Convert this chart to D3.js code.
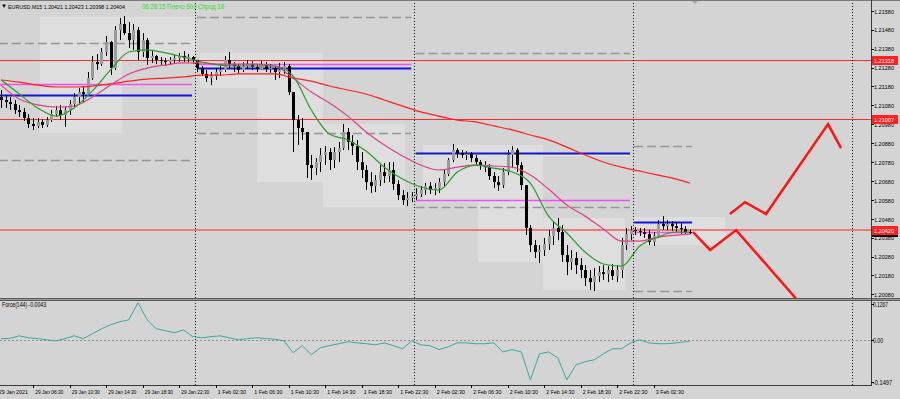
<!DOCTYPE html>
<html>
<head>
<meta charset="utf-8">
<script src="https://cdn.jsdelivr.net/npm/d3@7"></script>
<style>
  body { margin: 0; background: #d4d4d4; }
  svg { display: block; font-family: "Liberation Sans", Arial, sans-serif; }
</style>
</head>
<body>
<script>
// EURUSD M15, one candle per two M15 bars. candle k sits at bar -85 + 2k
// (bar 0 = 1 Feb 00:00), so k = 0 is 29 Jan 02:45 and k = 151 is 3 Feb 06:15
const firstOpen = 1.21124;
const closes = [
  1.21108,1.21097,1.21087,1.21055,1.21045,1.21013,1.20981,1.20971,1.20992,1.20976,
  1.21002,1.21034,1.21055,1.21029,1.21055,1.21087,1.21124,1.21150,1.21140,1.21224,
  1.21309,1.21298,1.21362,1.21415,1.21277,1.21478,1.21510,1.21462,1.21425,1.21478,
  1.21362,1.21425,1.21330,1.21341,1.21320,1.21314,1.21309,1.21320,1.21330,1.21341,
  1.21330,1.21335,1.21320,1.21277,1.21246,1.21224,1.21235,1.21256,1.21267,1.21320,
  1.21298,1.21288,1.21267,1.21288,1.21298,1.21283,1.21272,1.21293,1.21272,1.21277,
  1.21256,1.21267,1.21288,1.21150,1.21002,1.20960,1.20939,1.20764,1.20748,1.20780,
  1.20817,1.20833,1.20791,1.20833,1.20854,1.20939,1.20886,1.20865,1.20780,1.20738,
  1.20674,1.20653,1.20685,1.20727,1.20706,1.20738,1.20664,1.20605,1.20579,1.20590,
  1.20600,1.20611,1.20632,1.20653,1.20632,1.20642,1.20674,1.20717,1.20791,1.20844,
  1.20828,1.20817,1.20822,1.20801,1.20780,1.20764,1.20753,1.20706,1.20674,1.20658,
  1.20727,1.20817,1.20844,1.20764,1.20658,1.20431,1.20341,1.20304,1.20315,1.20346,
  1.20389,1.20431,1.20410,1.20288,1.20251,1.20272,1.20235,1.20209,1.20166,1.20145,
  1.20177,1.20198,1.20188,1.20209,1.20177,1.20209,1.20341,1.20399,1.20420,1.20415,
  1.20410,1.20399,1.20357,1.20389,1.20452,1.20441,1.20452,1.20441,1.20431,1.20426,
  1.20410,1.20404
];
const highs = [
  1.21161,1.21134,1.21124,1.21108,1.21082,1.21066,1.21034,1.21013,1.21013,1.21008,
  1.21018,1.21055,1.21076,1.21082,1.21071,1.21108,1.21145,1.21171,1.21182,1.21256,
  1.21341,1.21351,1.21383,1.21447,1.21420,1.21499,1.21542,1.21552,1.21521,1.21510,
  1.21494,1.21462,1.21436,1.21373,1.21346,1.21335,1.21330,1.21335,1.21346,1.21357,
  1.21367,1.21351,1.21341,1.21309,1.21288,1.21267,1.21256,1.21277,1.21293,1.21341,
  1.21362,1.21309,1.21298,1.21309,1.21320,1.21314,1.21298,1.21314,1.21309,1.21298,
  1.21288,1.21304,1.21309,1.21298,1.21150,1.21029,1.21013,1.20897,1.20817,1.20801,
  1.20854,1.20865,1.20854,1.20859,1.20886,1.20981,1.20960,1.20923,1.20897,1.20833,
  1.20764,1.20727,1.20711,1.20764,1.20775,1.20780,1.20780,1.20685,1.20632,1.20621,
  1.20621,1.20642,1.20653,1.20669,1.20674,1.20669,1.20695,1.20738,1.20801,1.20875,
  1.20854,1.20844,1.20838,1.20833,1.20817,1.20791,1.20785,1.20769,1.20727,1.20706,
  1.20748,1.20844,1.20865,1.20854,1.20780,1.20658,1.20447,1.20367,1.20341,1.20379,
  1.20420,1.20463,1.20484,1.20447,1.20341,1.20315,1.20304,1.20272,1.20235,1.20209,
  1.20220,1.20230,1.20235,1.20230,1.20241,1.20235,1.20379,1.20431,1.20441,1.20436,
  1.20431,1.20431,1.20420,1.20410,1.20473,1.20494,1.20473,1.20468,1.20463,1.20463,
  1.20441,1.20423
];
const lows = [
  1.21066,1.21066,1.21055,1.21034,1.21018,1.20997,1.20960,1.20950,1.20960,1.20960,
  1.20965,1.20992,1.21018,1.21002,1.20965,1.21029,1.21071,1.21092,1.21097,1.21140,
  1.21214,1.21267,1.21288,1.21341,1.21240,1.21267,1.21425,1.21452,1.21383,1.21373,
  1.21320,1.21335,1.21293,1.21304,1.21298,1.21293,1.21288,1.21293,1.21304,1.21309,
  1.21309,1.21309,1.21298,1.21256,1.21235,1.21203,1.21187,1.21214,1.21235,1.21256,
  1.21277,1.21256,1.21246,1.21256,1.21272,1.21267,1.21256,1.21272,1.21256,1.21251,
  1.21214,1.21224,1.21246,1.21134,1.20833,1.20870,1.20897,1.20695,1.20685,1.20711,
  1.20727,1.20764,1.20738,1.20748,1.20780,1.20844,1.20844,1.20817,1.20738,1.20695,
  1.20632,1.20616,1.20621,1.20653,1.20669,1.20674,1.20632,1.20579,1.20553,1.20547,
  1.20568,1.20579,1.20595,1.20605,1.20611,1.20605,1.20616,1.20653,1.20706,1.20780,
  1.20801,1.20801,1.20791,1.20780,1.20759,1.20738,1.20727,1.20685,1.20642,1.20627,
  1.20642,1.20711,1.20748,1.20727,1.20632,1.20394,1.20304,1.20272,1.20246,1.20283,
  1.20315,1.20341,1.20367,1.20251,1.20182,1.20209,1.20188,1.20166,1.20124,1.20103,
  1.20098,1.20145,1.20156,1.20145,1.20156,1.20145,1.20166,1.20315,1.20367,1.20394,
  1.20389,1.20379,1.20341,1.20336,1.20379,1.20420,1.20420,1.20415,1.20410,1.20399,
  1.20394,1.20398
];

const maFast = [
  1.21214,1.21140,1.21066,1.21023,1.21066,1.21156,1.21267,1.21362,1.21373,1.21357,
  1.21335,1.21309,1.21293,1.21288,1.21288,1.21288,1.21235,1.21055,1.20928,1.20897,
  1.20838,1.20753,1.20690,1.20648,1.20632,1.20727,1.20764,1.20748,1.20727,1.20669,
  1.20494,1.20405,1.20304,1.20241,1.20230,1.20336,1.20383,1.20410,1.20410
];
const maMid = [
  1.21187,1.21113,1.21082,1.21071,1.21076,1.21124,1.21187,1.21246,1.21277,1.21293,
  1.21304,1.21304,1.21298,1.21298,1.21298,1.21288,1.21224,1.21150,1.21092,1.21023,
  1.20939,1.20870,1.20812,1.20764,1.20738,1.20753,1.20764,1.20759,1.20753,1.20711,
  1.20637,1.20553,1.20494,1.20426,1.20362,1.20362,1.20383,1.20394,1.20399
];
const maSlow = [
  1.21214,1.21203,1.21187,1.21177,1.21177,1.21182,1.21193,1.21208,1.21219,1.21224,
  1.21230,1.21240,1.21240,1.21246,1.21246,1.21246,1.21224,1.21208,1.21182,1.21161,
  1.21140,1.21108,1.21076,1.21045,1.21023,1.21002,1.20992,1.20971,1.20950,1.20923,
  1.20897,1.20859,1.20817,1.20780,1.20753,1.20732,1.20711,1.20690,1.20669
];

const force = [
  0.004,0.005,0.014,0.007,0.004,0.000,-0.004,0.004,0.014,0.004,
  0.021,0.039,0.053,0.064,0.071,0.131,0.071,0.039,0.032,0.025,
  0.035,0.011,0.007,0.011,0.014,0.007,0.000,0.004,0.007,0.004,
  0.002,-0.004,-0.046,-0.021,-0.053,-0.028,-0.021,-0.014,-0.007,-0.011,
  -0.014,-0.018,-0.011,-0.021,-0.032,-0.004,-0.018,-0.021,-0.035,-0.025,
  -0.011,-0.011,-0.014,-0.014,-0.011,-0.043,-0.035,-0.043,-0.142,-0.050,
  -0.043,-0.064,-0.142,-0.089,-0.078,-0.071,-0.050,-0.032,-0.032,-0.011,
  0.000,-0.011,-0.014,-0.014,-0.011,-0.007,-0.0043
];

// daily levels indicator: one span per day (in M15 bars from 1 Feb 00:00)
const daySpans = [[-86, -1.3], [0.9, 94.8], [96.7, 190.7], [192.5, 217.9]];
const dashHigh = [1.21410, 1.21547, 1.21357, 1.20865];
const dashLow = [1.20791, 1.20933, 1.20542, 1.20098];
const magentaLvl = [1.21193, 1.21298, 1.20579, 1.20410];
const blueLvl = [1.21134, 1.21277, 1.20830, 1.20463];

// session boxes (bars from 1 Feb 00:00, price range)
const boxStart = [-68, -32, 2.2, 27.2, 56.1, 100, 124.1, 152.6, 192.5];
const boxEnd = [-32, 0, 27.2, 56.1, 92.1, 124.1, 152.6, 188.5, 232.4];
const boxHigh = [1.21547, 1.21547, 1.21357, 1.21357, 1.20981, 1.20870, 1.20870, 1.20484, 1.20489];
const boxLow = [1.20933, 1.21309, 1.21171, 1.20674, 1.20542, 1.20568, 1.20251, 1.20103, 1.20341];

// horizontal lines
const redLevels = [1.21318, 1.21007];
const markLevel = 1.20420;
const lastPrice = 1.20404;

// hand drawn forecast zigzags
const fcATime = [218.3, 225.8, 237.2, 265.2];
const fcAPrice = [1.20410, 1.20315, 1.20420, 1.20034];
const fcBTime = [234.5, 241.1, 250.3, 277.5, 283.2];
const fcBPrice = [1.20505, 1.20568, 1.20505, 1.20981, 1.20854];

// axes
const priceTicks = [1.21580, 1.21480, 1.21380, 1.21280, 1.21180, 1.21080, 1.20980, 1.20880,
  1.20780, 1.20680, 1.20580, 1.20480, 1.20380, 1.20280, 1.20180, 1.20080];
const timeLabels = ["29 Jan 06:30", "29 Jan 10:30", "29 Jan 14:30", "29 Jan 18:30", "29 Jan 22:30",
  "1 Feb 02:30", "1 Feb 06:30", "1 Feb 10:30", "1 Feb 14:30", "1 Feb 18:30", "1 Feb 22:30",
  "2 Feb 02:30", "2 Feb 06:30", "2 Feb 10:30", "2 Feb 14:30", "2 Feb 18:30", "2 Feb 22:30",
  "3 Feb 02:30"];
const daySeps = [0, 96, 192, 288];

//define sizes
const W = 900, H = 399;
const plotR = 871, mainB = 298, subT = 301, subB = 385;

const svg = d3.select("body").append("svg")
    .attr("width", W)
    .attr("height", H);

svg.append("rect").attr("width", W).attr("height", H).attr("fill", "#d4d4d4");

// scales: bar index -> x, price -> y, force -> y
const x = d3.scaleLinear().domain([0, 288]).range([195, 852]);
const y = d3.scaleLinear().domain([1.20061, 1.21637]).range([mainB, 0]);
const yF = d3.scaleLinear().domain([-0.1497, 0.1267]).range([382, 304]);

svg.append("clipPath").attr("id", "main")
  .append("rect").attr("width", plotR).attr("height", mainB);
svg.append("clipPath").attr("id", "sub")
  .append("rect").attr("y", subT).attr("width", plotR).attr("height", subB - subT);

const main = svg.append("g").attr("clip-path", "url(#main)");

//session boxes
main.selectAll(".box")
    .data(boxStart.map((s, i) => ({ s, e: boxEnd[i], hi: boxHigh[i], lo: boxLow[i] })))
  .enter().append("rect")
    .attr("x", d => x(d.s))
    .attr("width", d => x(d.e) - x(d.s))
    .attr("y", d => y(d.hi))
    .attr("height", d => y(d.lo) - y(d.hi))
    .attr("fill", "#dedede");

// day separators (both windows)
svg.selectAll(".sep")
    .data(daySeps)
  .enter().append("line")
    .attr("x1", d => Math.round(x(d)) + 0.5)
    .attr("x2", d => Math.round(x(d)) + 0.5)
    .attr("y1", 0).attr("y2", subB)
    .attr("stroke", "#1a1a1a")
    .attr("stroke-dasharray", "1,2");

// red full width levels
main.selectAll(".red")
    .data(redLevels)
  .enter().append("line")
    .attr("x1", 0).attr("x2", plotR)
    .attr("y1", d => Math.round(y(d)) + 0.5)
    .attr("y2", d => Math.round(y(d)) + 0.5)
    .attr("stroke", "#ff2a2a");

main.append("line")
    .attr("x1", 0).attr("x2", plotR)
    .attr("y1", y(markLevel)).attr("y2", y(markLevel))
    .attr("stroke", "#f07a7a").attr("stroke-width", 2);

// daily levels
const seg = (vals, color, w, dash) => main.append("g").selectAll("line")
    .data(vals.map((p, i) => ({ p, s: daySpans[i][0], e: daySpans[i][1] })))
  .enter().append("line")
    .attr("x1", d => x(d.s)).attr("x2", d => x(d.e))
    .attr("y1", d => Math.round(y(d.p)) + 0.5)
    .attr("y2", d => Math.round(y(d.p)) + 0.5)
    .attr("stroke", color).attr("stroke-width", w)
    .attr("stroke-dasharray", dash);

seg(dashHigh, "#969696", 1.5, "9,4");
seg(dashLow, "#969696", 1.5, "9,4");
seg(magentaLvl, "#f050f0", 1.5, null);
seg(blueLvl, "#1414dc", 2, null);

// pale line under the 2 Feb blue level
main.append("line")
    .attr("x1", x(daySpans[2][0])).attr("x2", x(daySpans[2][1]))
    .attr("y1", Math.round(y(blueLvl[2])) + 2.5).attr("y2", Math.round(y(blueLvl[2])) + 2.5)
    .attr("stroke", "#ececb4");

//candles
const candles = closes.map((c, k) => {
  const o = k === 0 ? firstOpen : closes[k - 1];
  return { t: -85 + 2 * k, o, c, h: Math.max(highs[k], o, c), l: Math.min(lows[k], o, c) };
});

const cg = main.append("g");
cg.selectAll(".wick")
    .data(candles)
  .enter().append("line")
    .attr("x1", d => Math.round(x(d.t)) + 0.5)
    .attr("x2", d => Math.round(x(d.t)) + 0.5)
    .attr("y1", d => y(d.h))
    .attr("y2", d => y(d.l))
    .attr("stroke", "#000");

cg.selectAll(".body")
    .data(candles)
  .enter().append("rect")
    .attr("x", d => Math.round(x(d.t)) - 1)
    .attr("width", 3)
    .attr("y", d => y(Math.max(d.o, d.c)))
    .attr("height", d => Math.max(1, Math.abs(y(d.o) - y(d.c))))
    .attr("fill", d => d.c >= d.o ? "#9a9a9a" : "#000");

// moving averages
const maBars = d3.range(0, 152, 4).concat([151]).map(k => -85 + 2 * k);
const maLine = d3.line()
    .x((d, i) => x(maBars[i]))
    .y(d => y(d))
    .curve(d3.curveMonotoneX);

main.append("path").attr("d", maLine(maSlow))
    .attr("fill", "none").attr("stroke", "#ff2020").attr("stroke-width", 1.2);
main.append("path").attr("d", maLine(maMid))
    .attr("fill", "none").attr("stroke", "#e0408c").attr("stroke-width", 1.2);
main.append("path").attr("d", maLine(maFast))
    .attr("fill", "none").attr("stroke", "#2e9a2e").attr("stroke-width", 1.2);

// forecast zigzags
const zig = d3.line().x(d => x(d[0])).y(d => y(d[1]));
[[fcATime, fcAPrice], [fcBTime, fcBPrice]].forEach(([ts, ps]) => {
  main.append("path")
      .attr("d", zig(ts.map((t, i) => [t, ps[i]])))
      .attr("fill", "none")
      .attr("stroke", "#ff1414")
      .attr("stroke-width", 2.5);
});

// chart shift marker
svg.append("path").attr("d", "M691,0 L699,0 L695,4 Z").attr("fill", "#a8a8a8");

// header
svg.append("text").attr("x", 1).attr("y", 8)
    .attr("font-size", 6).attr("fill", "#000").text("\u25BC");
svg.append("text").attr("x", 8).attr("y", 8.5)
    .attr("font-size", 6).attr("fill", "#000")
    .attr("textLength", 117).attr("lengthAdjust", "spacingAndGlyphs")
    .text("EURUSD,M15  1.20421 1.20423 1.20398 1.20404");
svg.append("text").attr("x", 142).attr("y", 8.5)
    .attr("font-size", 7).attr("fill", "#1ee01e")
    .attr("textLength", 82).attr("lengthAdjust", "spacingAndGlyphs")
    .text("06:26:15 Плечо 500 Спрод 18");

// window frames
svg.append("line").attr("x1", 0).attr("x2", W).attr("y1", 0.5).attr("y2", 0.5).attr("stroke", "#7a7a7a");
svg.append("rect").attr("x", 0).attr("y", mainB).attr("width", W).attr("height", 3).attr("fill", "#5a5a5a");
svg.append("line").attr("x1", 0).attr("x2", W).attr("y1", mainB + 1.5).attr("y2", mainB + 1.5).attr("stroke", "#9a9a9a");
svg.append("line").attr("x1", 0).attr("x2", plotR).attr("y1", subB + 0.5).attr("y2", subB + 0.5).attr("stroke", "#3a3a3a");
svg.append("line").attr("x1", plotR + 0.5).attr("x2", plotR + 0.5).attr("y1", 0).attr("y2", subB + 1).attr("stroke", "#3a3a3a");

// price axis
const pa = svg.append("g");
pa.selectAll(".tick").data(priceTicks).enter().append("line")
    .attr("x1", plotR).attr("x2", plotR + 3)
    .attr("y1", d => Math.round(y(d)) + 0.5).attr("y2", d => Math.round(y(d)) + 0.5)
    .attr("stroke", "#000");
pa.selectAll("text").data(priceTicks).enter().append("text")
    .attr("x", 874).attr("y", d => y(d) + 2.8)
    .attr("font-size", 6).attr("fill", "#000")
    .attr("textLength", 20).attr("lengthAdjust", "spacingAndGlyphs")
    .text(d => d.toFixed(5));

// current price box (covered by the red tag) and level tags on the axis
svg.append("rect")
    .attr("x", 872).attr("width", 26)
    .attr("y", Math.round(y(lastPrice)) - 3).attr("height", 7)
    .attr("fill", "#000");

const tags = [redLevels[0], redLevels[1], markLevel];
const tg = svg.selectAll(".tag").data(tags).enter().append("g");
tg.append("rect")
    .attr("x", 872).attr("width", 26)
    .attr("y", d => Math.round(y(d)) - 4).attr("height", 9)
    .attr("fill", "#ff2020");
tg.append("text")
    .attr("x", 874).attr("y", d => Math.round(y(d)) + 2.5)
    .attr("font-size", 6).attr("fill", "#fff")
    .attr("textLength", 20).attr("lengthAdjust", "spacingAndGlyphs")
    .text(d => d.toFixed(5));

// force subwindow
const sub = svg.append("g").attr("clip-path", "url(#sub)");
sub.append("line")
    .attr("x1", 0).attr("x2", plotR)
    .attr("y1", Math.round(yF(0)) + 0.5).attr("y2", Math.round(yF(0)) + 0.5)
    .attr("stroke", "#8e8e8e").attr("stroke-dasharray", "2,2");

const fBars = d3.range(0, 152, 2).concat([151]).map(k => -85 + 2 * k);
sub.append("path")
    .attr("d", d3.line().x((d, i) => x(fBars[i])).y(d => yF(d))(force))
    .attr("fill", "none").attr("stroke", "#3aa89c").attr("stroke-width", 1);

svg.append("text").attr("x", 2).attr("y", 307)
    .attr("font-size", 6.5).attr("fill", "#000")
    .attr("textLength", 44).attr("lengthAdjust", "spacingAndGlyphs")
    .text("Force(144) -0.0043");

[[0.1267, "0.1267", 15], [0, "0.00", 10], [-0.1497, "-0.1497", 19]].forEach(([v, s, w]) => {
  svg.append("line").attr("x1", plotR).attr("x2", plotR + 3)
      .attr("y1", Math.round(yF(v)) + 0.5).attr("y2", Math.round(yF(v)) + 0.5).attr("stroke", "#000");
  svg.append("text").attr("x", 873).attr("y", yF(v) + 2.8)
      .attr("font-size", 6.5).attr("fill", "#000")
      .attr("textLength", w).attr("lengthAdjust", "spacingAndGlyphs")
      .text(s);
});

// time axis, labels every 4 hours starting 29 Jan 06:30
const ta = svg.append("g");
const tlab = [{ t: -86, s: "29 Jan 2021" }].concat(timeLabels.map((s, i) => ({ t: -70 + 16 * i, s })));
ta.selectAll("line").data(tlab).enter().append("line")
    .attr("x1", d => Math.round(x(d.t)) - 1.5).attr("x2", d => Math.round(x(d.t)) - 1.5)
    .attr("y1", subB).attr("y2", subB + 3)
    .attr("stroke", "#000");
ta.selectAll("text").data(tlab).enter().append("text")
    .attr("x", d => x(d.t))
    .attr("y", 394)
    .attr("font-size", 6).attr("fill", "#000")
    .attr("textLength", d => d.s === "29 Jan 2021" ? 29 : 28)
    .attr("lengthAdjust", "spacingAndGlyphs")
    .text(d => d.s);
</script>
</body>
</html>
